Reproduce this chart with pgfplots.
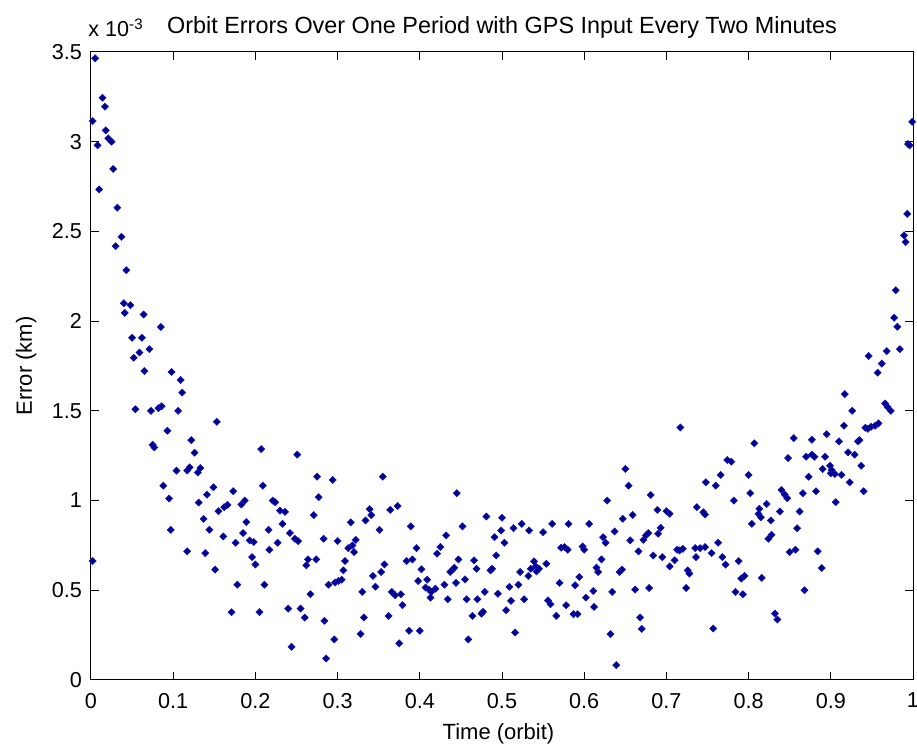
\documentclass[border=0pt]{standalone}
\usepackage{fontspec}
\setmainfont{Liberation Sans}
\usepackage{pgfplots}
\pgfplotsset{compat=1.18}
\definecolor{markfill}{RGB}{0,0,139}
\definecolor{markedge}{RGB}{20,20,190}

\begin{document}
\begin{tikzpicture}
\begin{axis}[
  at={(0pt,0pt)}, anchor=south west,
  scale only axis, width=411pt, height=314pt,
  xmin=0, xmax=1, ymin=0, ymax=3.5,
  xtick={0,0.1,0.2,0.3,0.4,0.5,0.6,0.7,0.8,0.9,1},
  ytick={0,0.5,1,1.5,2,2.5,3,3.5},
  tick align=inside,
  major tick length=4pt,
  axis line style={line width=0.5pt},
  every tick/.style={black, line width=0.5pt},
  /pgf/number format/assume math mode=true,
  /pgf/number format/fixed,
  ticklabel style={font=\fontsize{10.8}{13}\selectfont},
  xticklabel style={yshift=-3pt},
  yticklabel style={xshift=-1pt},
  clip=false,
]
\addplot[only marks, mark=square*,
  mark size=1.25pt,
  mark options={rotate=45, fill=markfill, draw=markedge, line width=0.3pt}]
  table[row sep=\\] {
x y\\
0.005 3.465\\ 0.014 3.245\\ 0.017 3.195\\ 0.002 3.115\\ 0.018 3.063\\
0.021 3.019\\ 0.025 3.000\\ 0.008 2.980\\ 0.027 2.848\\ 0.010 2.734\\
0.032 2.632\\ 0.037 2.470\\ 0.030 2.418\\ 0.043 2.284\\ 0.040 2.100\\
0.048 2.089\\ 0.041 2.046\\ 0.064 2.037\\ 0.085 1.967\\ 0.050 1.907\\
0.062 1.907\\ 0.071 1.844\\ 0.059 1.825\\ 0.052 1.796\\
0.065 1.722\\ 0.098 1.717\\ 0.109 1.672\\ 0.111 1.602\\ 0.054 1.509\\
0.073 1.500\\ 0.082 1.515\\ 0.086 1.526\\ 0.106 1.500\\ 0.153 1.439\\
0.093 1.389\\ 0.122 1.337\\ 0.075 1.311\\ 0.077 1.296\\ 0.126 1.267\\
0.207 1.287\\ 0.104 1.167\\ 0.117 1.167\\ 0.120 1.185\\ 0.130 1.156\\
0.133 1.181\\ 0.088 1.083\\ 0.149 1.074\\ 0.209 1.083\\ 0.095 1.011\\
0.141 1.033\\ 0.173 1.052\\ 0.131 0.989\\ 0.183 0.978\\ 0.187 1.000\\
0.221 1.000\\ 0.224 0.991\\ 0.155 0.941\\ 0.162 0.963\\ 0.166 0.976\\
0.230 0.944\\ 0.137 0.898\\ 0.189 0.880\\ 0.233 0.870\\ 0.097 0.837\\
0.144 0.837\\ 0.216 0.837\\ 0.161 0.800\\ 0.185 0.819\\ 0.193 0.778\\
0.198 0.769\\ 0.176 0.765\\ 0.227 0.765\\ 0.217 0.726\\ 0.117 0.717\\
0.139 0.707\\ 0.196 0.685\\ 0.200 0.644\\ 0.002 0.663\\ 0.151 0.615\\
0.178 0.531\\ 0.211 0.531\\ 0.171 0.378\\ 0.205 0.378\\
0.236 0.937\\ 0.242 0.819\\ 0.248 0.787\\ 0.252 0.774\\ 0.251 1.256\\
0.275 1.133\\ 0.294 1.115\\ 0.277 1.019\\ 0.271 0.919\\ 0.283 0.787\\
0.300 0.774\\ 0.264 0.672\\ 0.262 0.639\\ 0.274 0.672\\ 0.267 0.478\\
0.240 0.398\\ 0.255 0.398\\ 0.260 0.348\\ 0.284 0.330\\ 0.296 0.226\\
0.244 0.185\\ 0.286 0.120\\ 0.289 0.531\\ 0.297 0.543\\ 0.301 0.552\\
0.305 0.559\\ 0.307 0.611\\ 0.309 0.663\\ 0.313 0.735\\ 0.318 0.750\\
0.322 0.781\\ 0.320 0.713\\ 0.316 0.878\\ 0.330 0.491\\ 0.332 0.348\\
0.328 0.256\\ 0.334 0.889\\ 0.339 0.952\\ 0.341 0.919\\ 0.351 0.837\\
0.355 1.133\\ 0.343 0.580\\ 0.346 0.520\\ 0.353 0.602\\ 0.357 0.644\\
0.364 0.948\\ 0.373 0.970\\ 0.362 0.357\\ 0.366 0.491\\ 0.370 0.472\\
0.377 0.478\\ 0.379 0.417\\ 0.375 0.204\\ 0.387 0.274\\ 0.400 0.274\\
0.389 0.856\\ 0.384 0.663\\ 0.391 0.672\\ 0.396 0.735\\ 0.402 0.617\\
0.398 0.552\\ 0.409 0.559\\ 0.407 0.515\\ 0.411 0.504\\ 0.414 0.491\\
0.419 0.509\\ 0.413 0.459\\ 0.430 0.531\\ 0.434 0.450\\ 0.421 0.704\\
0.425 0.741\\ 0.432 0.806\\ 0.437 0.602\\ 0.440 0.615\\ 0.442 0.626\\
0.444 0.541\\ 0.445 1.041\\ 0.452 0.856\\ 0.447 0.672\\ 0.455 0.561\\
0.457 0.450\\ 0.459 0.226\\ 0.464 0.357\\ 0.466 0.667\\ 0.469 0.620\\
0.470 0.450\\ 0.475 0.370\\ 0.477 0.380\\ 0.479 0.491\\ 0.481 0.911\\
0.491 0.796\\ 0.493 0.694\\ 0.486 0.611\\ 0.488 0.620\\ 0.495 0.481\\
0.499 0.833\\ 0.500 0.904\\ 0.503 0.765\\ 0.505 0.389\\ 0.509 0.519\\
0.511 0.441\\ 0.516 0.265\\ 0.514 0.846\\ 0.520 0.531\\ 0.522 0.602\\
0.524 0.870\\ 0.527 0.450\\ 0.532 0.580\\ 0.533 0.833\\ 0.535 0.620\\
0.539 0.661\\ 0.541 0.633\\ 0.545 0.620\\ 0.542 0.605\\ 0.550 0.824\\
0.554 0.648\\ 0.556 0.444\\ 0.559 0.422\\ 0.561 0.870\\ 0.566 0.357\\
0.570 0.541\\ 0.572 0.737\\ 0.576 0.741\\ 0.580 0.726\\ 0.578 0.417\\
0.581 0.870\\ 0.587 0.367\\ 0.592 0.367\\ 0.589 0.528\\ 0.594 0.574\\
0.598 0.744\\ 0.600 0.726\\ 0.602 0.459\\ 0.606 0.870\\ 0.611 0.496\\
0.612 0.407\\ 0.615 0.626\\ 0.617 0.602\\ 0.621 0.672\\ 0.623 0.796\\
0.626 0.765\\ 0.628 1.000\\ 0.632 0.256\\ 0.634 0.491\\ 0.637 0.828\\
0.639 0.083\\ 0.643 0.602\\ 0.646 0.615\\ 0.647 0.898\\ 0.650 1.176\\
0.654 1.083\\ 0.656 0.778\\ 0.659 0.920\\ 0.662 0.504\\ 0.666 0.717\\
0.668 0.348\\ 0.670 0.285\\ 0.672 0.781\\ 0.675 0.806\\ 0.678 0.819\\
0.679 0.513\\ 0.681 1.031\\ 0.684 0.694\\ 0.689 0.948\\ 0.690 0.815\\
0.693 0.848\\ 0.695 0.685\\ 0.700 0.941\\ 0.704 0.926\\ 0.704 0.633\\
0.710 0.667\\ 0.713 0.726\\ 0.716 0.722\\ 0.720 0.731\\ 0.717 1.407\\
0.724 0.513\\ 0.726 0.611\\ 0.728 0.593\\ 0.735 0.735\\ 0.736 0.685\\
0.737 0.963\\ 0.745 0.935\\ 0.747 0.922\\ 0.741 0.735\\ 0.747 0.741\\
0.748 1.102\\
0.755 0.707\\ 0.757 0.287\\ 0.763 0.765\\ 0.760 1.083\\ 0.766 1.143\\
0.768 0.685\\ 0.772 0.643\\ 0.774 1.226\\ 0.779 1.217\\ 0.782 1.000\\
0.784 0.491\\ 0.793 0.478\\ 0.788 0.663\\ 0.791 0.565\\ 0.795 0.580\\
0.800 1.143\\ 0.802 1.041\\ 0.804 0.870\\ 0.807 1.319\\ 0.812 0.926\\
0.815 0.907\\ 0.813 0.954\\ 0.816 0.569\\ 0.822 0.981\\ 0.827 0.889\\
0.824 0.787\\ 0.828 0.809\\ 0.832 0.370\\ 0.835 0.337\\ 0.838 0.939\\
0.840 1.059\\ 0.844 1.033\\ 0.847 1.013\\ 0.848 1.237\\ 0.850 0.713\\
0.857 0.726\\ 0.855 1.348\\ 0.859 0.846\\ 0.862 0.939\\ 0.866 1.041\\
0.868 0.500\\ 0.870 1.244\\ 0.877 1.256\\ 0.880 1.244\\ 0.873 1.133\\
0.877 1.339\\ 0.882 1.052\\ 0.884 0.717\\ 0.889 0.624\\ 0.890 1.176\\
0.893 1.244\\ 0.895 1.370\\ 0.899 1.194\\ 0.901 1.170\\ 0.905 1.148\\
0.900 1.152\\ 0.906 0.991\\ 0.910 1.330\\ 0.913 1.143\\ 0.916 1.417\\
0.917 1.593\\ 0.921 1.269\\ 0.929 1.256\\ 0.923 1.102\\ 0.926 1.500\\
0.933 1.330\\ 0.935 1.337\\ 0.937 1.194\\ 0.940 1.052\\ 0.942 1.406\\
0.945 1.400\\ 0.949 1.411\\ 0.954 1.417\\ 0.958 1.430\\ 0.946 1.806\\
0.957 1.713\\ 0.962 1.763\\ 0.966 1.541\\ 0.969 1.522\\ 0.973 1.500\\
0.999 3.111\\ 0.994 2.987\\ 0.996 2.980\\ 0.993 2.598\\ 0.989 2.478\\
0.991 2.441\\ 0.979 2.172\\ 0.977 2.019\\ 0.981 1.969\\ 0.968 1.833\\
0.984 1.844\\
};
% title, exponent marker and axis labels
\node[anchor=base, font=\fontsize{11.7}{14}\selectfont]
  at (rel axis cs:0.5,1) [yshift=9pt] {Orbit Errors Over One Period with GPS Input Every Two Minutes};
\node[anchor=base west, inner sep=0pt, font=\fontsize{10.8}{13}\selectfont]
  at (rel axis cs:0,1) [xshift=-1.5pt, yshift=7.5pt] {x 10\textsuperscript{-3}};
\node[anchor=base, font=\fontsize{11}{13}\selectfont]
  at (rel axis cs:0.5,0) [xshift=-1.75pt, yshift=-30pt] {Time (orbit)};
% rotated frame: positive yshift moves the label to the left
\node[anchor=base, rotate=90, font=\fontsize{11}{13}\selectfont]
  at (rel axis cs:0,0.5) [yshift=29.5pt] {Error (km)};
\end{axis}
\pgfresetboundingbox
\path (-45.5pt,-34pt) rectangle (413pt,340pt);
\end{tikzpicture}
\end{document}
